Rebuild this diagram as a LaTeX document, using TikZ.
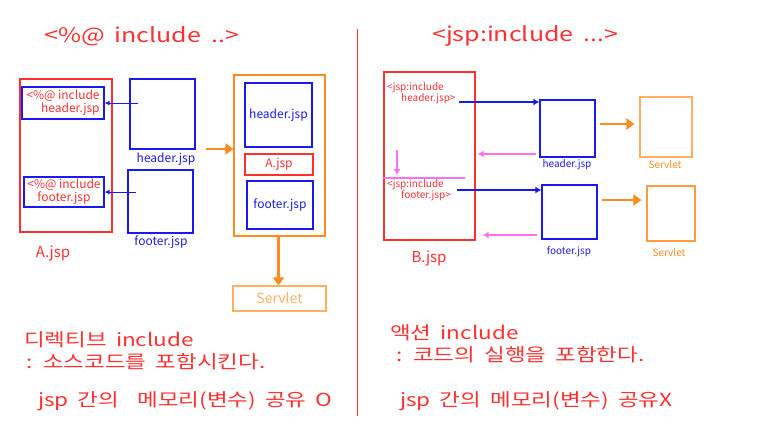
\documentclass[tikz,border=0pt]{standalone}
\usepackage{fontspec}
\setmainfont{Noto Sans CJK KR}
\newfontfamily\widefont[FakeStretch=1.25,WordSpace=1.8]{Noto Sans CJK KR}
\usetikzlibrary{arrows.meta}
\definecolor{jred}{HTML}{FF3030}
\definecolor{jblue}{HTML}{1A1AF0}
\definecolor{jorange}{HTML}{FF8A1E}
\definecolor{jlight}{HTML}{FFB060}
\definecolor{jpink}{HTML}{FF70F0}
\tikzset{
  box/.style={line width=1.2pt, inner sep=0pt},
  redbox/.style={box, draw=jred},
  bluebox/.style={box, draw=jblue},
  orabox/.style={box, draw=jorange},
  litbox/.style={box, draw=jlight},
  small/.style={inner sep=0pt, font=\fontsize{12}{13}\selectfont},
  tiny/.style={inner sep=0pt, font=\fontsize{10}{11.5}\selectfont},
  big/.style={inner sep=0pt, anchor=west, text=jred, font=\widefont\fontsize{18}{20}\selectfont},
  blarrow/.style={draw=jblue, line width=1pt, -{Latex[length=5pt,width=5pt]}},
  bkarrow/.style={draw=jblue, line width=1.6pt, -{Latex[length=6pt,width=7pt]}},
  orarrow/.style={draw=jorange, line width=2.6pt, -{Triangle[length=8pt,width=11pt]}},
  pkarrow/.style={draw=jpink, line width=1.6pt, -{Latex[length=6pt,width=7pt]}}
}
\begin{document}
\begin{tikzpicture}[x=1pt,y=-1pt]
  \useasboundingbox (0,0) rectangle (769,440);
  % titles
  \node[big, font=\widefont\fontsize{20}{22}\selectfont] (titleA) at (44,36) {<\%@~include ..>};
  \node[big, font=\widefont\fontsize{20}{22}\selectfont] (titleB) at (432,36) {<jsp:include ...>};
  \draw[jred, line width=1pt] (357,29) -- (357,416);

  % directive include
  \node[redbox, minimum width=92, minimum height=153] (boxA) at (66,155.5) {};
  \node[bluebox, small, text=jred, align=right, minimum width=82, minimum height=32] (incA1) at (63,103) {<\%@ include\\header.jsp};
  \node[bluebox, small, text=jred, align=center, minimum width=80, minimum height=30] (incA2) at (64,192) {<\%@ include\\footer.jsp};
  \node[inner sep=0pt, text=jred, font=\fontsize{15}{16}\selectfont] (labA) at (53,253) {A.jsp};
  \node[bluebox, minimum width=65, minimum height=70] (hdrA) at (162.5,114) {};
  \node[small, text=jblue] (hdrAl) at (166,159) {header.jsp};
  \node[bluebox, minimum width=65, minimum height=63] (ftrA) at (160.5,201.5) {};
  \node[small, text=jblue] (ftrAl) at (161,242) {footer.jsp};
  \draw[blarrow] ([xshift=9pt]hdrA.west |- incA1.east) -- (incA1.east);
  \draw[blarrow] ([xshift=9pt]ftrA.west |- incA2.east) -- (incA2.east);

  \node[orabox, minimum width=91, minimum height=161] (mergeA) at (279.5,155.5) {};
  \node[bluebox, small, text=jblue, minimum width=67, minimum height=64] (mhdr) at (278.5,115) {header.jsp};
  \node[redbox, small, text=jred, minimum width=68, minimum height=21] (mA) at (279,164.5) {A.jsp};
  \node[bluebox, small, text=jblue, minimum width=66, minimum height=48] (mftr) at (280,205) {footer.jsp};
  \node[litbox, text=jlight, font=\fontsize{14}{15}\selectfont, minimum width=93, minimum height=25] (servA) at (279.5,298.5) {Servlet};
  \coordinate (joinA) at (206,149);
  \draw[orarrow] (joinA) -- (joinA -| mergeA.west);
  \draw[orarrow] ([xshift=-1pt]mergeA.south) -- ([xshift=-1pt]servA.north);

  % action include
  \node[redbox, minimum width=91, minimum height=168] (boxB) at (429.5,156) {};
  \node[tiny, text=jred, align=left, anchor=north west] (incB1) at (387,82) {<jsp:include\\\hspace*{14pt}header.jsp>};
  \node[tiny, text=jred, align=left, anchor=north west] (incB2) at (387,179) {<jsp:include\\\hspace*{14pt}footer.jsp>};
  \node[inner sep=0pt, text=jred, font=\fontsize{15}{16}\selectfont] (labB) at (429,258) {B.jsp};
  \node[bluebox, minimum width=55, minimum height=57] (hdrB) at (567.5,128.5) {};
  \node[tiny, text=jblue] (hdrBl) at (567,165) {header.jsp};
  \node[bluebox, minimum width=55, minimum height=54] (ftrB) at (569.5,212) {};
  \node[tiny, text=jblue] (ftrBl) at (569,252) {footer.jsp};
  \node[litbox, minimum width=52, minimum height=60] (servB1) at (666,127) {};
  \node[tiny, text=jorange] (servB1l) at (665,165) {Servlet};
  \node[orabox, draw=jorange!85, minimum width=48, minimum height=55] (servB2) at (671,213.5) {};
  \node[tiny, text=jorange] (servB2l) at (669,253) {Servlet};

  \coordinate (goH) at (459,102);
  \coordinate (goF) at (457,190);
  \coordinate (backH) at (536,154);
  \coordinate (backF) at (537,235);
  \coordinate (runH) at (600,124);
  \coordinate (runF) at (602,200);
  \coordinate (step) at (397,150);
  \draw[bkarrow] (goH) -- (goH -| hdrB.west);
  \draw[bkarrow] (goF) -- (goF -| ftrB.west);
  \draw[orarrow] (runH) -- ([xshift=-5pt]runH -| servB1.west);
  \draw[orarrow] (runF) -- ([xshift=-5pt]runF -| servB2.west);
  \draw[pkarrow] (backH) -- ([xshift=2pt]backH -| boxB.east);
  \draw[pkarrow] (backF) -- ([xshift=7pt]backF -| boxB.east);
  \draw[pkarrow] (step) -- ++(0,25);
  \draw[jpink, line width=1.6pt] (boxB.west |- 0,178) -- (465,178);

  % notes
  \node[big] (noteA1) at (24,340) {디렉티브 include};
  \node[big] (noteA2) at (26,362) {: 소스코드를 포함시킨다.};
  \node[big] (noteA3) at (38,401) {jsp 간의~~메모리(변수) 공유 O};
  \node[big] (noteB1) at (390,333) {액션 include};
  \node[big] (noteB2) at (396,355) {: 코드의 실행을 포함한다.};
  \node[big] (noteB3) at (400,401) {jsp 간의 메모리(변수) 공유X};
\end{tikzpicture}
\end{document}
